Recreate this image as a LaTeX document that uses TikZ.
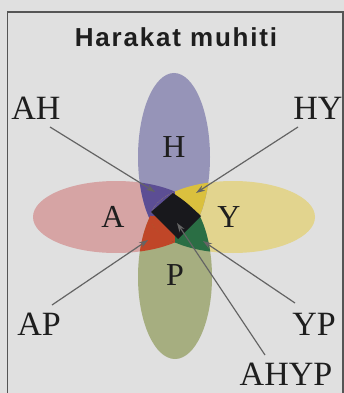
\documentclass[tikz,border=0pt]{standalone}
\usepackage{fontspec}
\setmainfont{Liberation Serif}
\newfontfamily\titlefont[LetterSpace=7]{Liberation Sans}
\usetikzlibrary{arrows.meta}

% petal colours
\definecolor{bgcol}{RGB}{224,224,224}
\definecolor{framecol}{RGB}{85,85,85}
\definecolor{hcol}{RGB}{150,148,184}
\definecolor{acol}{RGB}{214,164,164}
\definecolor{ycol}{RGB}{226,212,142}
\definecolor{pcol}{RGB}{166,174,128}
\definecolor{ahcol}{RGB}{92,78,148}
\definecolor{hycol}{RGB}{218,192,62}
\definecolor{apcol}{RGB}{192,70,40}
\definecolor{ypcol}{RGB}{42,110,68}
\definecolor{allcol}{RGB}{24,24,28}
\definecolor{linecol}{RGB}{100,100,100}
\definecolor{txtcol}{RGB}{30,30,30}

% the four petals
\newcommand{\petalA}{(116,217) ellipse [x radius=83, y radius=36]}
\newcommand{\petalY}{(233,217) ellipse [x radius=82, y radius=36]}
\newcommand{\petalH}{(174,157) ellipse [x radius=36, y radius=84]}
\newcommand{\petalP}{(175,277) ellipse [x radius=37, y radius=82]}
% quadrant colouring of the crossing zone, around the centre (175,216)
\newcommand{\quadfill}{%
  \fill[ahcol] (100,150) rectangle (175,216);
  \fill[hycol] (175,150) rectangle (250,216);
  \fill[apcol] (100,216) rectangle (175,290);
  \fill[ypcol] (175,216) rectangle (250,290);}

\tikzset{
  outer/.style={font=\fontsize{34}{34}\selectfont, text=txtcol, inner sep=0pt, anchor=base},
  inner/.style={font=\fontsize{32}{32}\selectfont, text=txtcol, inner sep=0pt, anchor=base},
  pointer/.style={draw=linecol, line width=1.2pt, -{Stealth[length=9pt,width=6pt,fill=txtcol]}},
}

\begin{document}
\begin{tikzpicture}[x=1pt,y=-1pt]
\useasboundingbox (0,0) rectangle (344,393);
\fill[bgcol] (0,0) rectangle (344,393);

% frame
\begin{scope}
\clip (0,0) rectangle (344,393);
\draw[framecol, line width=1.3pt] (7.5,400) -- (7.5,12) -- (343,12) -- (343,400);
\end{scope}

% title
\node[font=\titlefont\bfseries\fontsize{26}{26}\selectfont, text=txtcol, inner sep=0pt, anchor=base] (title) at (176,47) {Harakat muhiti};

% base petals
\fill[acol] \petalA;
\fill[ycol] \petalY;
\fill[hcol] \petalH;
\fill[pcol] \petalP;

% pairwise overlaps
\begin{scope}\clip \petalA; \fill[ahcol] \petalH; \end{scope}
\begin{scope}\clip \petalA; \fill[apcol] \petalP; \end{scope}
\begin{scope}\clip \petalY; \fill[hycol] \petalH; \end{scope}
\begin{scope}\clip \petalY; \fill[ypcol] \petalP; \end{scope}
\begin{scope}\clip \petalA; \clip \petalY; \quadfill \end{scope}
\begin{scope}\clip \petalH; \clip \petalP; \quadfill \end{scope}

% common core
\fill[allcol] (173,193) .. controls (186,202) .. (201,216)
  .. controls (190,227) .. (178,239)
  .. controls (164,226) .. (151,212)
  .. controls (162,202) .. cycle;

% petal letters
\node[inner] (H) at (174,157) {H};
\node[inner] (A) at (113,227) {A};
\node[inner] (Y) at (229,227) {Y};
\node[inner] (P) at (175,285) {P};

% outer labels
\node[outer] (AH) at (36,120) {AH};
\node[outer] (HY) at (318,120) {HY};
\node[outer] (AP) at (39,335) {AP};
\node[outer] (YP) at (314,335) {YP};
\node[outer] (AHYP) at (286,385) {AHYP};

% pointer ends
\coordinate (tAH) at (155,192);
\coordinate (tHY) at (196,193);
\coordinate (tAP) at (148,240);
\coordinate (tYP) at (203,241);
\coordinate (tAHYP) at (177,223);

\coordinate (sAH) at (50,127);
\coordinate (sHY) at (298,127);
\coordinate (sAP) at (52,305);
\coordinate (sYP) at (295,303);
\coordinate (sAHYP) at (265,355);

\draw[pointer] (sAH) -- (tAH);
\draw[pointer] (sHY) -- (tHY);
\draw[pointer] (sAP) -- (tAP);
\draw[pointer] (sYP) -- (tYP);
\draw[pointer] (sAHYP) -- (tAHYP);
\end{tikzpicture}
\end{document}
